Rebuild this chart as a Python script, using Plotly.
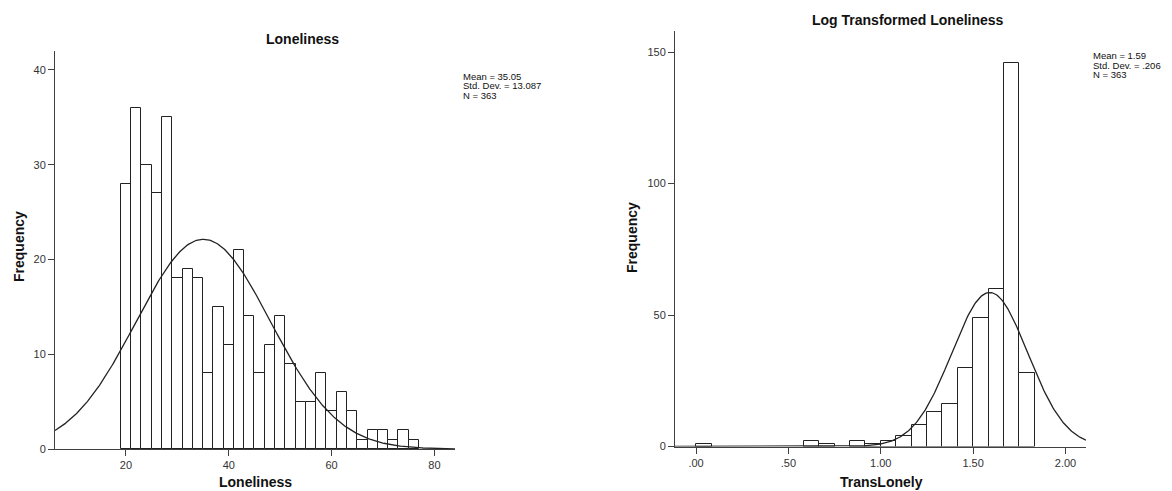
import numpy as np
import plotly.graph_objects as go

# the page body has an 8px margin, so the figure is drawn 8px smaller and offset
OFF = 8
W, H = 1172 - OFF, 491 - OFF

# ---------------- data ----------------
lone_centers = [20, 22, 24, 26, 28, 30, 32, 34, 36, 38, 40, 42, 44, 46, 48,
                50, 52, 54, 56, 58, 60, 62, 64, 66, 68, 70, 72, 74, 76]
lone_freq = [28, 36, 30, 27, 35, 18, 19, 18, 8, 15, 11, 21, 14, 8, 11,
             14, 9, 5, 5, 8, 4, 6, 4, 1, 2, 2, 1, 2, 1]
lone_bin_width = 2
lone_mean, lone_sd, lone_n = 35.05, 13.087, 363

trans_centers = [0.042, 0.625, 0.708, 0.875, 0.958, 1.042, 1.125, 1.208,
                 1.292, 1.375, 1.458, 1.542, 1.625, 1.708, 1.792]
trans_freq = [1, 2, 1, 2, 1, 2, 4, 8, 13, 16, 30, 49, 60, 146, 28]
trans_bin_width = 1 / 12
trans_mean, trans_sd, trans_n = 1.59, 0.206, 363

lone_xticks = [20, 40, 60, 80]
lone_yticks = [0, 10, 20, 30, 40]
trans_xticks = [0.0, 0.5, 1.0, 1.5, 2.0]
trans_xticklabels = [".00", ".50", "1.00", "1.50", "2.00"]
trans_yticks = [0, 50, 100, 150]

lone_stats = ["Mean = 35.05", "Std. Dev. = 13.087", "N = 363"]
trans_stats = ["Mean = 1.59", "Std. Dev. = .206", "N = 363"]

lone_xrange = [6.2, 84]
lone_yrange = [0, 42]
trans_xrange = [-0.114, 2.111]
trans_yrange = [0, 158]

FONT = "Liberation Sans, Arial, sans-serif"
AX = "#404040"


def normal_curve(mean, sd, n, width, xr):
    xs = np.linspace(xr[0], xr[1], 400)
    ys = n * width / (sd * np.sqrt(2 * np.pi)) * np.exp(-0.5 * ((xs - mean) / sd) ** 2)
    return xs, ys


def px(x):
    return (x - OFF) / W


def py(y):
    return 1 - (y - OFF) / H


fig = go.Figure()

bar_style = dict(marker=dict(color="white", line=dict(color="#222222", width=1)),
                 hoverinfo="skip", showlegend=False)

fig.add_trace(go.Bar(x=lone_centers, y=lone_freq, width=lone_bin_width,
                     xaxis="x", yaxis="y", **bar_style))
cx, cy = normal_curve(lone_mean, lone_sd, lone_n, lone_bin_width, lone_xrange)
fig.add_trace(go.Scatter(x=cx, y=cy, mode="lines", line=dict(color="#222222", width=1.3),
                         xaxis="x", yaxis="y", showlegend=False, hoverinfo="skip"))

fig.add_trace(go.Bar(x=trans_centers, y=trans_freq, width=trans_bin_width,
                     xaxis="x2", yaxis="y2", **bar_style))
cx2, cy2 = normal_curve(trans_mean, trans_sd, trans_n, trans_bin_width, trans_xrange)
fig.add_trace(go.Scatter(x=cx2, y=cy2, mode="lines", line=dict(color="#222222", width=1.3),
                         xaxis="x2", yaxis="y2", showlegend=False, hoverinfo="skip"))

axis_common = dict(showgrid=False, zeroline=False, showline=True, linecolor=AX,
                   linewidth=1, ticks="outside", ticklen=6, tickcolor=AX, tickwidth=1,
                   automargin=False,
                   tickfont=dict(family=FONT, size=11, color="#333333"), fixedrange=True)

fig.update_layout(
    width=W, height=H, autosize=False,
    margin=dict(l=0, r=0, t=0, b=0, autoexpand=False),
    paper_bgcolor="white", plot_bgcolor="white",
    bargap=0,
    xaxis=dict(domain=[px(55), px(455)], range=lone_xrange, tickvals=lone_xticks,
               anchor="y", **axis_common),
    yaxis=dict(domain=[py(449), py(51)], range=lone_yrange, tickvals=lone_yticks,
               anchor="x", **axis_common),
    xaxis2=dict(domain=[px(675), px(1086)], range=trans_xrange, tickvals=trans_xticks,
                ticktext=trans_xticklabels, anchor="y2", **axis_common),
    yaxis2=dict(domain=[py(446.5), py(31)], range=trans_yrange, tickvals=trans_yticks,
                anchor="x2", **axis_common),
)

ann = []


def text(x, y, s, size, bold=False, angle=0, xanchor="center"):
    ann.append(dict(x=px(x), y=py(y), xref="paper", yref="paper", text=f"<b>{s}</b>" if bold else s,
                    showarrow=False, xanchor=xanchor, yanchor="middle", textangle=angle,
                    font=dict(family=FONT, size=size, color="#111111")))


# titles
text(302, 39, "Loneliness", 14, bold=True)
text(908, 20, "Log Transformed Loneliness", 14, bold=True)
# axis titles
text(255, 482, "Loneliness", 14, bold=True)
text(881, 482, "TransLonely", 14, bold=True)
text(19, 247, "Frequency", 14, bold=True, angle=-90)
text(632, 238, "Frequency", 14, bold=True, angle=-90)
# stats
for i, s in enumerate(lone_stats):
    text(461, 76 + 9.5 * i, s, 9.5, xanchor="left")
for i, s in enumerate(trans_stats):
    text(1091, 55.5 + 9.5 * i, s, 9.5, xanchor="left")

fig.update_layout(annotations=ann)
fig.write_html("out.html")
